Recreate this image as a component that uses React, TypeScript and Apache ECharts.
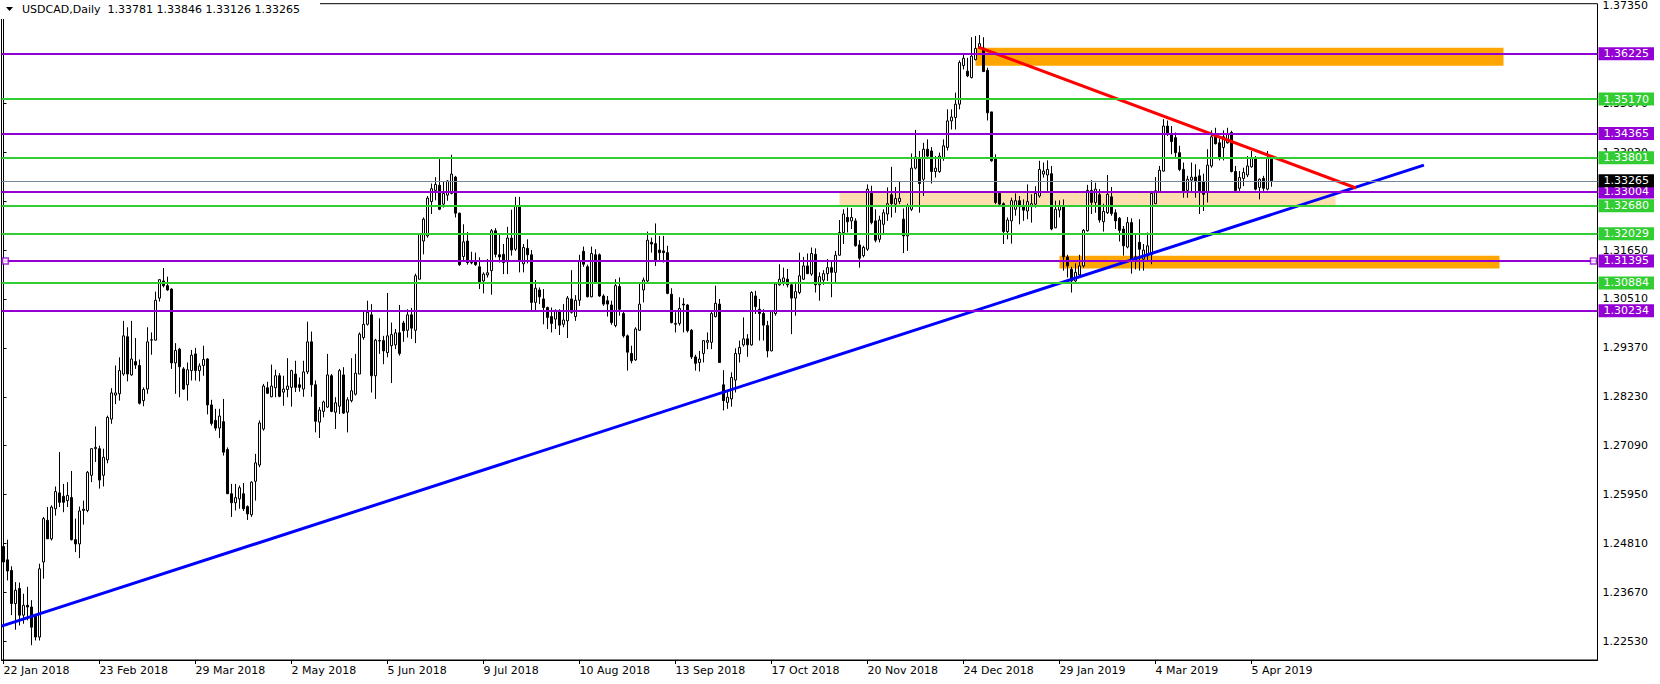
import React, { useEffect, useRef } from "react";
import * as echarts from "echarts";

// ---------- data ----------
const symbolName = "USDCAD";
const timeframe = "Daily";
const tickLabels = [
  "22 Jan 2018", "23 Feb 2018", "29 Mar 2018", "2 May 2018", "5 Jun 2018", "9 Jul 2018",
  "10 Aug 2018", "13 Sep 2018", "17 Oct 2018", "20 Nov 2018", "24 Dec 2018", "29 Jan 2019",
  "4 Mar 2019", "5 Apr 2019",
];
const barsPerLabel = 24;
const totalSlots = 399; // bars + right-hand chart shift

const opens = [
  1.2474,1.2443,1.2418,1.2341,1.2376,1.2314,1.2337,1.2333,1.2314,1.2263,
  1.2438,1.2535,1.2492,1.2562,1.2599,1.2591,1.2581,1.2588,1.2490,1.2480,
  1.2558,1.2558,1.2640,1.2702,1.2702,1.2640,1.2676,1.2771,1.2827,1.2830,
  1.2876,1.2963,1.2874,1.2905,1.2896,1.2814,1.2841,1.2955,1.2955,1.3053,
  1.3093,1.3082,1.3074,1.2902,1.2934,1.2888,1.2851,1.2884,1.2923,1.2884,
  1.2896,1.2911,1.2804,1.2768,1.2750,1.2765,1.2700,1.2597,1.2576,1.2585,
  1.2597,1.2567,1.2548,1.2626,1.2664,1.2748,1.2844,1.2823,1.2844,1.2872,
  1.2834,1.2840,1.2845,1.2876,1.2851,1.2841,1.2881,1.2951,1.2851,1.2764,
  1.2789,1.2799,1.2872,1.2787,1.2801,1.2874,1.2787,1.2814,1.2829,1.2876,
  1.2961,1.2992,1.3014,1.2872,1.2954,1.2954,1.2926,1.2942,1.2944,1.2972,
  1.2995,1.2978,1.3014,1.2978,1.3097,1.3186,1.3198,1.3278,1.3304,1.3316,
  1.3272,1.3293,1.3297,1.3335,1.3251,1.3150,1.3186,1.3136,1.3138,1.3126,
  1.3093,1.3107,1.3117,1.3210,1.3154,1.3155,1.3138,1.3193,1.3167,1.3269,
  1.3133,1.3169,1.3154,1.3043,1.3072,1.3051,1.3031,1.3010,1.3004,1.3024,
  1.2992,1.3000,1.3051,1.3010,1.3048,1.3162,1.3126,1.3056,1.3154,1.3154,
  1.3058,1.3047,1.3037,1.2989,1.3080,1.3017,1.2965,1.2924,1.2909,1.2978,
  1.3072,1.3093,1.3183,1.3180,1.3165,1.3163,1.3159,1.3062,1.2992,1.2994,
  1.3039,1.3037,1.2978,1.2916,1.2903,1.2924,1.2950,1.2950,1.3010,1.3039,
  1.2851,1.2810,1.2818,1.2862,1.2923,1.2944,1.2958,1.2944,1.3058,1.3027,
  1.3017,1.2989,1.2930,1.3017,1.3084,1.3091,1.3097,1.3084,1.3053,1.3066,
  1.3097,1.3128,1.3109,1.3155,1.3084,1.3095,1.3110,1.3124,1.3113,1.3153,
  1.3206,1.3241,1.3233,1.3233,1.3177,1.3152,1.3167,1.3297,1.3233,1.3190,
  1.3225,1.3249,1.3294,1.3272,1.3278,1.3237,1.3198,1.3260,1.3356,1.3380,
  1.3330,1.3400,1.3396,1.3348,1.3348,1.3380,1.3404,1.3466,1.3474,1.3505,
  1.3595,1.3582,1.3567,1.3609,1.3636,1.3636,1.3584,1.3487,1.3380,1.3297,
  1.3273,1.3208,1.3233,1.3260,1.3280,1.3266,1.3256,1.3266,1.3272,1.3291,
  1.3342,1.3340,1.3343,1.3217,1.3258,1.3268,1.3149,1.3120,1.3093,1.3107,
  1.3128,1.3210,1.3304,1.3276,1.3294,1.3231,1.3252,1.3289,1.3252,1.3239,
  1.3214,1.3172,1.3229,1.3140,1.3183,1.3144,1.3152,1.3154,1.3273,1.3301,
  1.3349,1.3454,1.3436,1.3427,1.3392,1.3353,1.3304,1.3328,1.3335,1.3338,
  1.3325,1.3299,1.3361,1.3433,1.3415,1.3404,1.3415,1.3439,1.3348,1.3309,
  1.3332,1.3340,1.3359,1.3380,1.3311,1.3332,1.3307,1.33781,
];
const highs = [
  1.2496,1.2490,1.2428,1.2391,1.2390,1.2364,1.2380,1.2349,1.2317,1.2434,
  1.2543,1.2566,1.2570,1.2614,1.2694,1.2620,1.2624,1.2650,1.2539,1.2567,
  1.2581,1.2650,1.2703,1.2754,1.2709,1.2702,1.2779,1.2843,1.2896,1.2915,
  1.3000,1.2985,1.3000,1.2960,1.2910,1.2845,1.2985,1.2973,1.3068,1.3097,
  1.3123,1.3103,1.3076,1.2948,1.2937,1.2892,1.2903,1.2932,1.2937,1.2901,
  1.2942,1.2913,1.2816,1.2795,1.2795,1.2818,1.2705,1.2620,1.2620,1.2616,
  1.2622,1.2570,1.2626,1.2690,1.2768,1.2853,1.2858,1.2898,1.2886,1.2878,
  1.2872,1.2913,1.2886,1.2907,1.2868,1.2907,1.2998,1.2975,1.2861,1.2799,
  1.2814,1.2923,1.2876,1.2822,1.2888,1.2892,1.2822,1.2913,1.2923,1.2973,
  1.3025,1.3047,1.3039,1.2958,1.3006,1.2965,1.3065,1.2996,1.2981,1.3037,
  1.3000,1.3027,1.3030,1.3110,1.3204,1.3241,1.3291,1.3320,1.3335,1.3377,
  1.3324,1.3328,1.3387,1.3338,1.3252,1.3225,1.3207,1.3161,1.3159,1.3148,
  1.3113,1.3144,1.3214,1.3216,1.3204,1.3179,1.3219,1.3259,1.3289,1.3289,
  1.3179,1.3190,1.3165,1.3095,1.3078,1.3074,1.3033,1.3031,1.3027,1.3027,
  1.3039,1.3058,1.3118,1.3060,1.3154,1.3173,1.3131,1.3173,1.3167,1.3157,
  1.3062,1.3058,1.3047,1.3097,1.3101,1.3024,1.2968,1.2942,1.2985,1.3086,
  1.3101,1.3208,1.3194,1.3227,1.3198,1.3198,1.3175,1.3076,1.3020,1.3055,
  1.3053,1.3039,1.2981,1.2921,1.2930,1.2955,1.2973,1.3024,1.3082,1.3051,
  1.2885,1.2837,1.2880,1.2936,1.2954,1.3008,1.2969,1.3069,1.3070,1.3051,
  1.3027,1.3000,1.3025,1.3089,1.3132,1.3124,1.3121,1.3087,1.3091,1.3159,
  1.3149,1.3157,1.3171,1.3169,1.3113,1.3118,1.3144,1.3141,1.3163,1.3235,
  1.3260,1.3264,1.3263,1.3239,1.3188,1.3175,1.3318,1.3315,1.3260,1.3245,
  1.3260,1.3311,1.3359,1.3312,1.3326,1.3262,1.3273,1.3390,1.3445,1.3396,
  1.3415,1.3423,1.3405,1.3384,1.3392,1.3423,1.3493,1.3493,1.3532,1.3607,
  1.3621,1.3613,1.3661,1.3664,1.3666,1.3661,1.3590,1.3487,1.3388,1.3299,
  1.3276,1.3241,1.3287,1.3297,1.3291,1.3283,1.3318,1.3295,1.3314,1.3373,
  1.3369,1.3374,1.3361,1.3280,1.3281,1.3283,1.3154,1.3126,1.3134,1.3154,
  1.3214,1.3317,1.3328,1.3322,1.3307,1.3273,1.3340,1.3312,1.3260,1.3242,
  1.3221,1.3242,1.3239,1.3202,1.3237,1.3179,1.3206,1.3303,1.3335,1.3361,
  1.3470,1.3467,1.3454,1.3439,1.3408,1.3369,1.3338,1.3369,1.3365,1.3353,
  1.3343,1.3400,1.3444,1.3450,1.3425,1.3444,1.3450,1.3443,1.3361,1.3349,
  1.3357,1.3384,1.3396,1.3384,1.3332,1.3338,1.3396,1.33846,
];
const lows = [
  1.2418,1.2395,1.2314,1.2280,1.2290,1.2294,1.2302,1.2244,1.2255,1.2255,
  1.2399,1.2492,1.2488,1.2546,1.2566,1.2554,1.2566,1.2488,1.2461,1.2447,
  1.2525,1.2554,1.2624,1.2671,1.2609,1.2614,1.2668,1.2760,1.2806,1.2814,
  1.2872,1.2859,1.2872,1.2888,1.2805,1.2801,1.2830,1.2921,1.2954,1.3045,
  1.3078,1.3070,1.2888,1.2830,1.2822,1.2839,1.2814,1.2861,1.2861,1.2859,
  1.2872,1.2782,1.2756,1.2744,1.2727,1.2686,1.2597,1.2543,1.2558,1.2562,
  1.2557,1.2536,1.2543,1.2581,1.2659,1.2744,1.2830,1.2822,1.2822,1.2822,
  1.2802,1.2822,1.2800,1.2834,1.2835,1.2823,1.2876,1.2823,1.2740,1.2727,
  1.2775,1.2797,1.2787,1.2748,1.2783,1.2783,1.2740,1.2810,1.2826,1.2876,
  1.2956,1.2989,1.2833,1.2818,1.2923,1.2899,1.2915,1.2855,1.2934,1.2919,
  1.2951,1.2961,1.2958,1.2948,1.3097,1.3155,1.3194,1.3249,1.3281,1.3258,
  1.3264,1.3280,1.3295,1.3241,1.3128,1.3140,1.3131,1.3132,1.3128,1.3074,
  1.3064,1.3101,1.3061,1.3148,1.3136,1.3109,1.3109,1.3152,1.3163,1.3113,
  1.3113,1.3134,1.3025,1.3025,1.3039,1.2992,1.2981,1.2973,1.2981,1.2967,
  1.2985,1.2960,1.3017,1.3000,1.3035,1.3126,1.3055,1.3055,1.3086,1.3056,
  1.3035,1.3010,1.2991,1.2985,1.3012,1.2961,1.2884,1.2901,1.2907,1.2977,
  1.3043,1.3089,1.3159,1.3128,1.3140,1.3136,1.3062,1.2994,1.2973,1.2989,
  1.2973,1.2973,1.2911,1.2884,1.2882,1.2903,1.2934,1.2934,1.3008,1.2903,
  1.2791,1.2795,1.2800,1.2833,1.2903,1.2940,1.2916,1.2942,1.3016,1.2954,
  1.2954,1.2915,1.2929,1.3012,1.3082,1.3082,1.3078,1.2969,1.3012,1.3062,
  1.3095,1.3109,1.3105,1.3066,1.3047,1.3084,1.3093,1.3055,1.3086,1.3152,
  1.3179,1.3206,1.3214,1.3173,1.3124,1.3148,1.3163,1.3225,1.3183,1.3183,
  1.3202,1.3233,1.3241,1.3252,1.3272,1.3158,1.3163,1.3256,1.3353,1.3252,
  1.3291,1.3377,1.3320,1.3334,1.3345,1.3373,1.3397,1.3446,1.3446,1.3493,
  1.3586,1.3568,1.3565,1.3607,1.3635,1.3581,1.3467,1.3371,1.3272,1.3270,
  1.3179,1.3190,1.3180,1.3245,1.3225,1.3233,1.3237,1.3229,1.3264,1.3287,
  1.3334,1.3303,1.3211,1.3216,1.3241,1.3117,1.3101,1.3066,1.3089,1.3103,
  1.3124,1.3208,1.3249,1.3252,1.3229,1.3208,1.3249,1.3245,1.3214,1.3185,
  1.3152,1.3169,1.3110,1.3120,1.3117,1.3117,1.3141,1.3132,1.3272,1.3299,
  1.3348,1.3431,1.3388,1.3382,1.3349,1.3287,1.3287,1.3301,1.3287,1.3249,
  1.3256,1.3276,1.3357,1.3411,1.3374,1.3374,1.3413,1.3346,1.3303,1.3303,
  1.3314,1.3335,1.3357,1.3304,1.3283,1.3303,1.3304,1.33126,
];
const closes = [
  1.2438,1.2417,1.2341,1.2372,1.2314,1.2337,1.2333,1.2286,1.2263,1.2422,
  1.2539,1.2492,1.2566,1.2602,1.2577,1.2577,1.2593,1.2490,1.2480,1.2557,
  1.2561,1.2647,1.2702,1.2705,1.2629,1.2682,1.2775,1.2832,1.2832,1.2884,
  1.2965,1.2876,1.2911,1.2897,1.2808,1.2840,1.2951,1.2956,1.3048,1.3096,
  1.3082,1.3072,1.2902,1.2931,1.2893,1.2841,1.2886,1.2920,1.2884,1.2895,
  1.2910,1.2804,1.2761,1.2750,1.2778,1.2694,1.2597,1.2576,1.2588,1.2611,
  1.2562,1.2550,1.2624,1.2669,1.2762,1.2848,1.2831,1.2848,1.2872,1.2824,
  1.2841,1.2848,1.2884,1.2845,1.2845,1.2881,1.2951,1.2851,1.2766,1.2792,
  1.2811,1.2874,1.2789,1.2809,1.2884,1.2785,1.2816,1.2837,1.2878,1.2969,
  1.2992,1.3020,1.2872,1.2955,1.2953,1.2930,1.2965,1.2968,1.2972,1.2924,
  1.2977,1.3014,1.2983,1.3105,1.3202,1.3237,1.3286,1.3308,1.3318,1.3260,
  1.3297,1.3326,1.3342,1.3251,1.3131,1.3184,1.3136,1.3135,1.3131,1.3089,
  1.3109,1.3112,1.3210,1.3155,1.3149,1.3136,1.3193,1.3165,1.3268,1.3142,
  1.3171,1.3154,1.3043,1.3076,1.3056,1.3031,1.3008,1.2994,1.3022,1.2990,
  1.3002,1.3053,1.3020,1.3048,1.3140,1.3132,1.3056,1.3157,1.3089,1.3058,
  1.3039,1.3039,1.2996,1.3082,1.3027,1.2965,1.2927,1.2907,1.2981,1.3039,
  1.3095,1.3188,1.3179,1.3141,1.3159,1.3159,1.3064,1.2996,1.2994,1.3029,
  1.3037,1.2977,1.2916,1.2901,1.2911,1.2954,1.2954,1.3017,1.3041,1.2903,
  1.2814,1.2822,1.2868,1.2924,1.2938,1.2958,1.2944,1.3066,1.3033,1.3017,
  1.2990,1.2930,1.3022,1.3086,1.3097,1.3100,1.3084,1.3053,1.3068,1.3105,
  1.3128,1.3110,1.3157,1.3084,1.3103,1.3110,1.3124,1.3113,1.3153,1.3206,
  1.3249,1.3231,1.3241,1.3175,1.3146,1.3171,1.3307,1.3229,1.3188,1.3235,
  1.3252,1.3273,1.3273,1.3285,1.3286,1.3198,1.3268,1.3356,1.3382,1.3320,
  1.3400,1.3384,1.3348,1.3356,1.3384,1.3408,1.3466,1.3475,1.3505,1.3602,
  1.3612,1.3571,1.3617,1.3635,1.3646,1.3581,1.3485,1.3373,1.3276,1.3272,
  1.3208,1.3235,1.3280,1.3280,1.3266,1.3258,1.3278,1.3273,1.3297,1.3353,
  1.3349,1.3353,1.3214,1.3260,1.3268,1.3149,1.3128,1.3093,1.3113,1.3128,
  1.3211,1.3304,1.3276,1.3307,1.3235,1.3255,1.3295,1.3250,1.3233,1.3211,
  1.3175,1.3229,1.3141,1.3149,1.3167,1.3165,1.3175,1.3297,1.3303,1.3351,
  1.3454,1.3435,1.3418,1.3392,1.3353,1.3301,1.3330,1.3335,1.3326,1.3303,
  1.3295,1.3363,1.3429,1.3413,1.3382,1.3429,1.3436,1.3348,1.3304,1.3334,
  1.3346,1.3361,1.3379,1.3307,1.3330,1.3309,1.3379,1.33265,
];

const priceTicks = [
  1.2253, 1.2367, 1.2481, 1.2595, 1.2709, 1.2823, 1.2937,
  1.3051, 1.3165, 1.3279, 1.3393, 1.3507, 1.3621, 1.3735,
];
// tick labels that are fully hidden behind the level tags are not printed
const hiddenTickLabels = [1.3279, 1.3621];
const purpleLevels = [1.36225, 1.34365, 1.33004, 1.31395, 1.30234];
const greenLevels = [1.3517, 1.33801, 1.3268, 1.32029, 1.30884];
const selectedLevel = 1.31395;
const lastPrice = 1.33265;

// trend lines: [barIndex, price]
const blueTrend = [[-0.5, 1.22883], [355.1, 1.33629]];
const redTrend = [[243.7, 1.3638], [338.1, 1.33096]];
// rectangles: [bar from, price top, bar to, price bottom]
const orangeTop = [243, 1.36363, 375, 1.35944];
const tanZone = [209, 1.32989, 333, 1.32696];
const orangeLow = [264, 1.31516, 374, 1.31221];
const selectHandles = [[0.45, selectedLevel], [397.5, selectedLevel]];

// ---------- chart ----------
const Y_MIN = 1.22095;
const Y_MAX = 1.37392;
const FONT = "DejaVu Sans";
const PURPLE = "#9400D3";
const GREEN = "#32CD32";

export default function App() {
  const ref = useRef<HTMLDivElement>(null);

  useEffect(() => {
    if (!ref.current) return;
    const chart = echarts.init(ref.current, undefined, { renderer: "svg" });

    const categories = Array.from({ length: totalSlots }, (_, i) => String(i));
    const candles = opens.map((o, i) => [o, closes[i], lows[i], highs[i]]);
    const lastIdx = opens.length - 1;
    const lastLabelIdx = (tickLabels.length - 1) * barsPerLabel;
    const showTick = (i: number) => i % barsPerLabel === 0 && i <= lastLabelIdx;
    const labelTicks = priceTicks.filter((v) => !hiddenTickLabels.includes(v));

    const zoneItem = (z: number[], color: string) => [
      { coord: [z[0], z[1]], itemStyle: { color, opacity: 1 } },
      { coord: [z[2], z[3]] },
    ];

    const levelItem = (v: number, color: string) => ({
      yAxis: v,
      lineStyle: { color, width: 2, type: "solid" },
      label: { backgroundColor: color },
    });

    const header = `${symbolName},${timeframe}  ${opens[lastIdx].toFixed(5)} ${highs[lastIdx].toFixed(5)} ${lows[lastIdx].toFixed(5)} ${closes[lastIdx].toFixed(5)}`;

    const labelBase = {
      show: true,
      position: "end",
      distance: 1,
      color: "#fff",
      fontSize: 11,
      fontFamily: FONT,
      lineHeight: 13,
      padding: [0, 5, 0, 5],
      formatter: (p: any) => Number(p.value).toFixed(5),
    };

    chart.setOption({
      animation: false,
      backgroundColor: "#ffffff",
      textStyle: { fontFamily: FONT },
      grid: {
        left: 1.5,
        top: 2.5,
        width: 1596,
        height: 657.5,
        show: true,
        borderColor: "#000",
        borderWidth: 1,
        backgroundColor: "transparent",
      },
      xAxis: [
        {
          type: "category",
          data: categories,
          boundaryGap: true,
          axisLine: { show: true, lineStyle: { color: "#000", width: 1 } },
          axisTick: {
            show: true,
            alignWithLabel: true,
            interval: (i: number) => showTick(i),
            length: 4,
            lineStyle: { color: "#000" },
          },
          axisLabel: {
            interval: (i: number) => showTick(i),
            formatter: (v: string) => {
              const i = Number(v);
              return i % barsPerLabel === 0 ? tickLabels[i / barsPerLabel] ?? "" : "";
            },
            align: "left",
            margin: 5,
            color: "#000",
            fontSize: 11,
            fontFamily: FONT,
          },
          splitLine: { show: false },
        },
        {
          type: "value",
          min: -0.5,
          max: totalSlots - 0.5,
          show: false,
        },
      ],
      yAxis: {
        type: "value",
        position: "right",
        min: Y_MIN,
        max: Y_MAX,
        axisLine: { show: true, lineStyle: { color: "#000" } },
        axisTick: { show: true, length: 3, customValues: priceTicks, lineStyle: { color: "#000" } },
        axisLabel: {
          customValues: labelTicks,
          formatter: (v: number) => v.toFixed(5),
          margin: 5,
          color: "#000",
          fontSize: 11,
          fontFamily: FONT,
        },
        splitLine: { show: false },
      },
      series: [
        {
          name: "zones",
          type: "line",
          xAxisIndex: 1,
          data: [],
          z: 1,
          markArea: {
            silent: true,
            z: 1,
            data: [
              zoneItem(orangeTop, "#FFA500"),
              zoneItem(tanZone, "#FFDEAD"),
              zoneItem(orangeLow, "#FFA500"),
            ],
          },
        },
        {
          name: symbolName,
          type: "candlestick",
          xAxisIndex: 0,
          data: candles,
          barWidth: 2,
          z: 3,
          itemStyle: {
            color: "#ffffff",
            color0: "#000000",
            borderColor: "#000000",
            borderColor0: "#000000",
            borderColorDoji: "#000000",
            borderWidth: 1,
          },
        },
        {
          name: "support",
          type: "line",
          xAxisIndex: 1,
          data: blueTrend,
          symbol: "none",
          z: 4,
          lineStyle: { color: "#0000FF", width: 3 },
        },
        {
          name: "resistance",
          type: "line",
          xAxisIndex: 1,
          data: redTrend,
          symbol: "none",
          z: 4,
          lineStyle: { color: "#FF0000", width: 3 },
        },
        {
          name: "levels",
          type: "line",
          xAxisIndex: 1,
          data: [],
          z: 5,
          markLine: {
            silent: true,
            symbol: "none",
            precision: 5,
            z: 5,
            lineStyle: { type: "solid", width: 2 },
            label: labelBase,
            data: [
              ...purpleLevels.map((v) => levelItem(v, PURPLE)),
              ...greenLevels.map((v) => levelItem(v, GREEN)),
            ],
          },
        },
        {
          name: "handles",
          type: "scatter",
          xAxisIndex: 1,
          data: selectHandles,
          symbol: "rect",
          symbolSize: 6,
          z: 6,
          itemStyle: { color: "#ffffff", borderColor: PURPLE, borderWidth: 1.5 },
        },
        {
          name: "last",
          type: "line",
          xAxisIndex: 1,
          data: [],
          z: 7,
          markLine: {
            silent: true,
            symbol: "none",
            precision: 5,
            z: 7,
            lineStyle: { type: "solid", color: "#778899", width: 1 },
            label: { ...labelBase, backgroundColor: "#000" },
            data: [{ yAxis: lastPrice }],
          },
        },
      ],
      graphic: [
        { type: "rect", left: 0, top: 0, shape: { width: 320, height: 19 }, style: { fill: "#fff" }, z: 50 },
        {
          type: "polygon",
          shape: { points: [[6, 7], [13, 7], [9.5, 11]] },
          style: { fill: "#000" },
          z: 51,
        },
        {
          type: "text",
          x: 22,
          y: 9.5,
          z: 51,
          style: {
            text: header,
            fill: "#000",
            font: `11px "${FONT}"`,
            verticalAlign: "middle",
            align: "left",
          },
        },
      ],
    });

    return () => chart.dispose();
  }, []);

  return (
    <div
      ref={ref}
      style={{ position: "absolute", left: 0, top: 0, width: 1660, height: 684, background: "#fff" }}
    />
  );
}
